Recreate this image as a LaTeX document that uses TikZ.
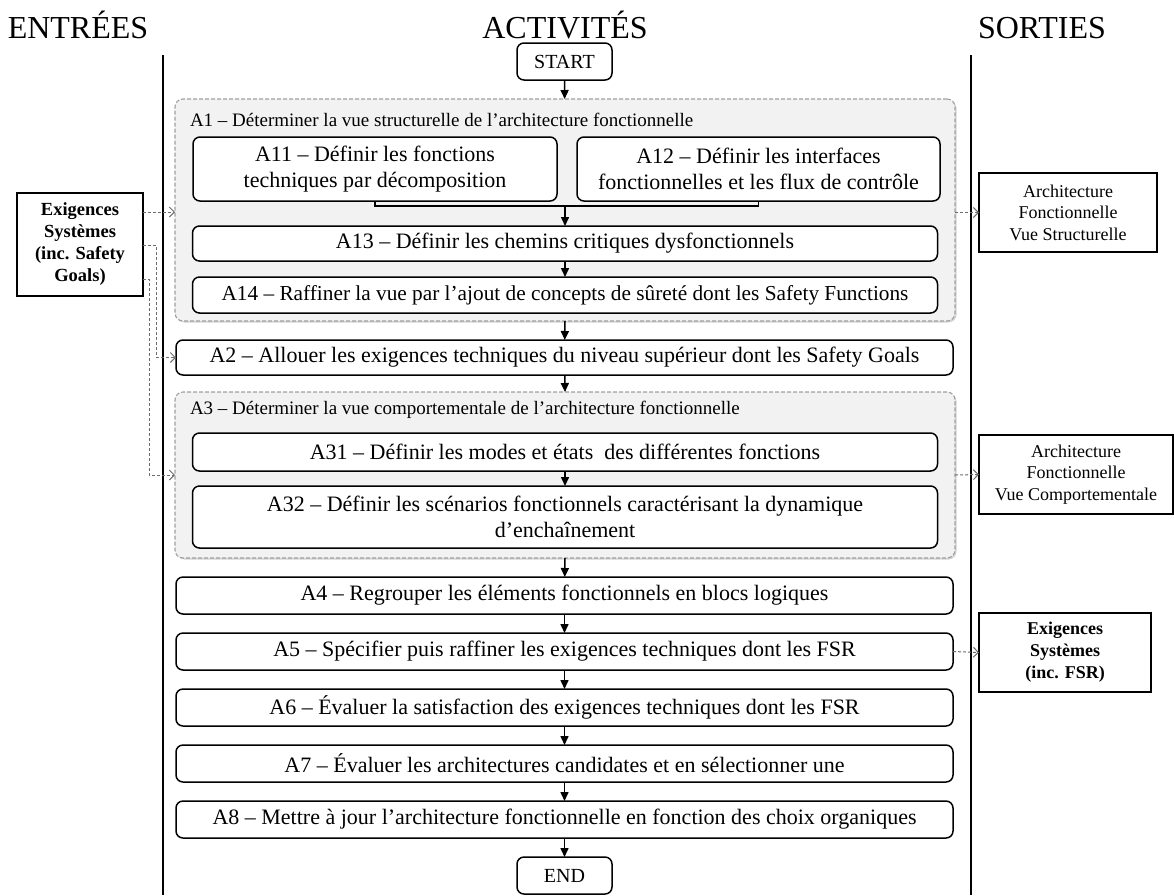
\documentclass[tikz,border=0pt]{standalone}
\usepackage{fontspec}
\setmainfont{Liberation Serif}
\usetikzlibrary{arrows.meta,shadows}

\begin{document}
\begin{tikzpicture}[x=1pt,y=-1pt,
  every node/.style={inner sep=0pt, outer sep=0pt},
  heading/.style={anchor=base, font=\fontsize{32}{38}\selectfont},
  stepbox/.style={draw, line width=1.5pt, rounded corners=7pt, fill=white,
    align=center, font=\fontsize{22}{26}\selectfont},
  endbox/.style={stepbox, minimum width=95pt, minimum height=37pt, font=\fontsize{20}{22}\selectfont},
  wide/.style={stepbox, minimum width=777pt, minimum height=37pt},
  inner/.style={stepbox, minimum width=745pt},
  group/.style={draw=gray!75, dash pattern=on 4pt off 2pt, line width=1.1pt,
    fill=gray!10, rounded corners=8pt,
    drop shadow={shadow xshift=1.5pt, shadow yshift=-1.5pt, opacity=0.35}},
  grouptitle/.style={anchor=west, font=\fontsize{19}{22}\selectfont},
  docbox/.style={draw, line width=1.5pt, fill=white, align=center,
    font=\fontsize{18}{21.5}\selectfont},
  flow/.style={line width=1.5pt, -{Triangle[length=9pt,width=8pt]}},
  link/.style={line width=1.5pt},
  dconn/.style={draw=gray!85!black, dash pattern=on 3pt off 2pt, line width=1pt,
    -{Straight Barb[length=5pt,width=10pt]}},
  lane/.style={line width=2pt}
]
\useasboundingbox (0,0) rectangle (1174,895);

% column headings and lane separators
\node[heading] (hin)  at (78,38)   {ENTRÉES};
\node[heading] (hact) at (565,38)  {ACTIVITÉS};
\node[heading] (hout) at (1042,38) {SORTIES};
\draw[lane] (163,55) -- (163,895);
\draw[lane] (971,55) -- (971,895);

% activity groups
\node[group, minimum width=780pt, minimum height=222pt] (A1c) at (565,210) {};
\node[grouptitle] (A1h) at (190,120) {A1 – Déterminer la vue structurelle de l’architecture fonctionnelle};
\node[group, minimum width=780pt, minimum height=166pt] (A3c) at (565,475) {};
\node[grouptitle] (A3h) at (190,410) {A3 – Déterminer la vue comportementale de l’architecture fonctionnelle};

% activities
\node[endbox] (start) at (564.5,61.5) {START};
\node[stepbox, minimum width=364pt, minimum height=64pt] (A11) at (375,169)
  {A11 – Définir les fonctions\\techniques par décomposition};
\node[stepbox, minimum width=363pt, minimum height=64pt] (A12) at (758.5,169)
  {A12 – Définir les interfaces\\fonctionnelles et les flux de contrôle};
\node[inner, minimum height=35pt] (A13) at (565,243.5) {A13 – Définir les chemins critiques dysfonctionnels};
\node[inner, minimum height=36pt, font=\fontsize{21.3}{26}\selectfont] (A14) at (565,295) {A14 – Raffiner la vue par l’ajout de concepts de sûreté dont les Safety Functions};
\node[wide, minimum height=35pt] (A2) at (564.5,357.5) {A2 – Allouer les exigences techniques du niveau supérieur dont les Safety Goals};
\node[inner, minimum height=38pt] (A31) at (565,452) {A31 – Définir les modes et états \ des différentes fonctions};
\node[inner, minimum height=62pt] (A32) at (565,517)
  {A32 – Définir les scénarios fonctionnels caractérisant la dynamique\\d’enchaînement};
\node[wide] (A4) at (564.5,595.5) {A4 – Regrouper les éléments fonctionnels en blocs logiques};
\node[wide] (A5) at (564.5,651.5) {A5 – Spécifier puis raffiner les exigences techniques dont les FSR};
\node[wide] (A6) at (564.5,707.5) {A6 – Évaluer la satisfaction des exigences techniques dont les FSR};
\node[wide] (A7) at (564.5,763.5) {A7 – Évaluer les architectures candidates et en sélectionner une};
\node[wide] (A8) at (564.5,819.5) {A8 – Mettre à jour l’architecture fonctionnelle en fonction des choix organiques};
\node[endbox] (end) at (564.5,875.5) {END};

% inputs and outputs
\node[docbox, minimum width=126pt, minimum height=103pt, font=\fontsize{18.5}{22}\selectfont\bfseries] (exL) at (80,244.5)
  {Exigences\\Systèmes\\(inc. Safety\\Goals)};
\node[docbox, minimum width=178pt, minimum height=79pt] (arS) at (1068,212.5)
  {Architecture\\Fonctionnelle\\Vue Structurelle};
\node[docbox, minimum width=194pt, minimum height=79pt] (arC) at (1076,474.5)
  {Architecture\\Fonctionnelle\\Vue Comportementale};
\node[docbox, minimum width=172pt, minimum height=79pt, font=\fontsize{18}{22}\selectfont\bfseries] (exR) at (1065,652.5)
  {Exigences\\Systèmes\\(inc. FSR)};

% control flow
\coordinate (j13) at (565,206);
\draw[flow] (start) -- (A1c);
\draw[link] (A11.south) |- (j13);
\draw[link] (A12.south) |- (j13);
\draw[flow] (j13) -- (A13);
\draw[flow] (A13) -- (A14);
\draw[flow] (A1c.south) -- (A2);
\draw[flow] (A2) -- (A3c.north);
\draw[flow] (A31) -- (A32);
\draw[flow] (A3c.south) -- (A4);
\draw[flow] (A4) -- (A5);
\draw[flow] (A5) -- (A6);
\draw[flow] (A6) -- (A7);
\draw[flow] (A7) -- (A8);
\draw[flow] (A8) -- (end);

% information flow
\draw[dconn] (exL.east |- 0,212) -- (A1c.west |- 0,212);
\draw[dconn] (exL.east |- 0,245) -| ([xshift=-20pt]A2.west) -- (A2.west);
\draw[dconn] (exL.east |- 0,279) -| ([xshift=-26pt]A3c.west) -- (A3c.west);
\draw[dconn] (A1c.east |- arS.west) -- (arS.west);
\draw[dconn] (A3c.east) -- (arC.west);
\draw[dconn] (A5.east) -- (exR.west);
\end{tikzpicture}
\end{document}
